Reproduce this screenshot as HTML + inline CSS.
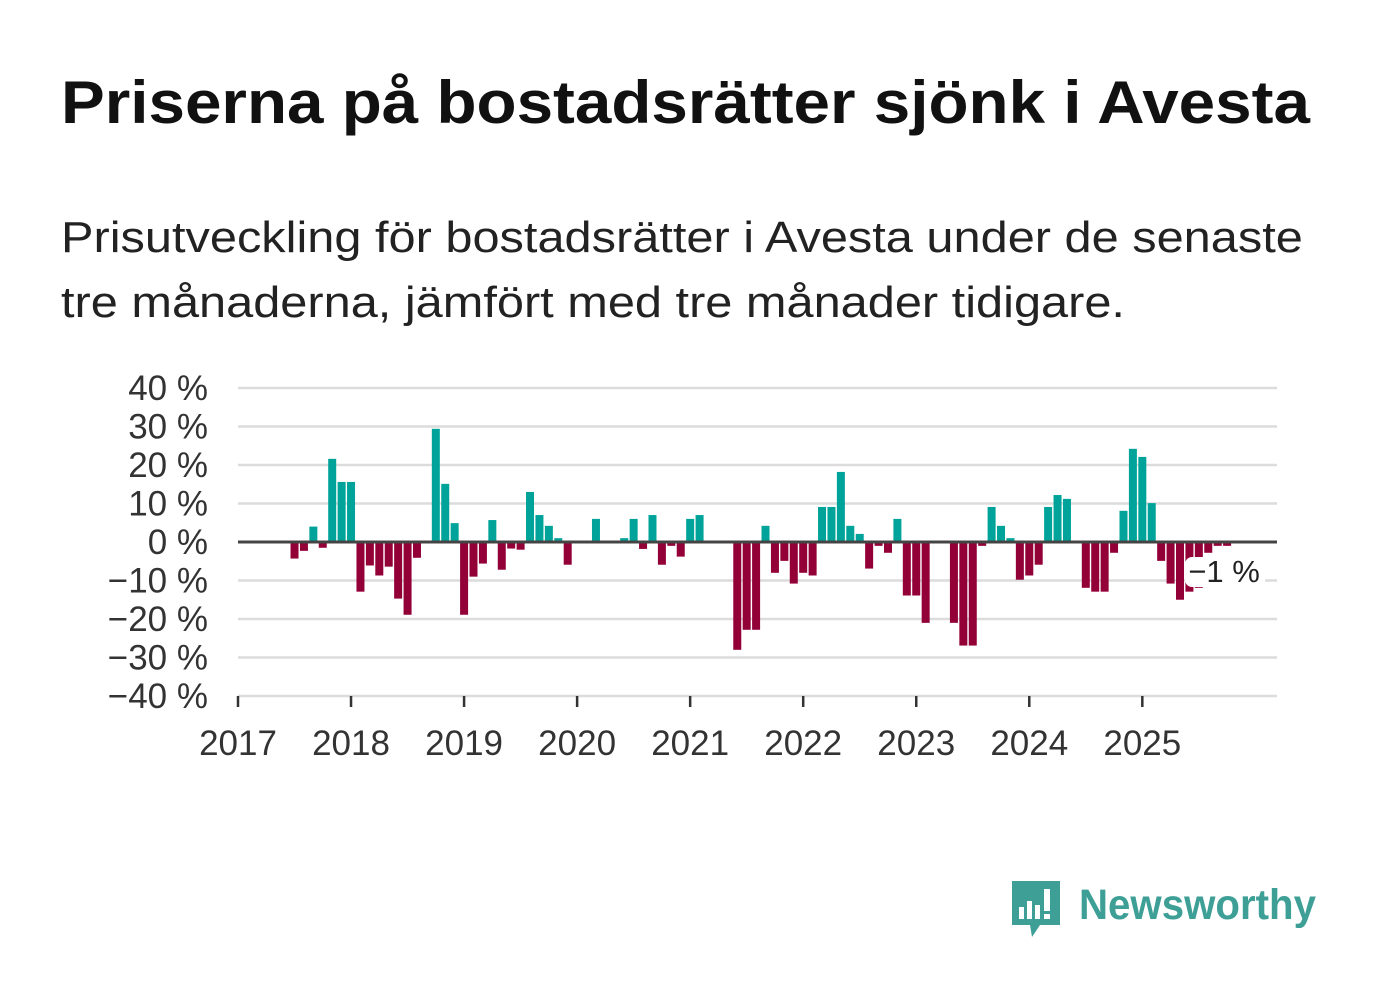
<!DOCTYPE html>
<html><head><meta charset="utf-8">
<style>
body{margin:0;background:#fff;width:1382px;height:999px;overflow:hidden;font-family:"Liberation Sans",sans-serif;}
#title{position:absolute;left:61px;top:68px;font-size:60px;font-weight:bold;color:#111;margin:0;white-space:nowrap;transform:scaleX(1.093);transform-origin:0 0;font-family:"Liberation Sans",sans-serif;}
#sub{position:absolute;left:61px;top:205px;font-size:44px;line-height:65px;color:#222;white-space:nowrap;transform:scaleX(1.107);transform-origin:0 0;font-family:"Liberation Sans",sans-serif;}
svg{position:absolute;left:0;top:0;}
</style></head><body>
<h1 id="title">Priserna på bostadsrätter sjönk i Avesta</h1>
<div id="sub">Prisutveckling för bostadsrätter i Avesta under de senaste<br>tre månaderna, jämfört med tre månader tidigare.</div>
<svg id="chart" width="1382" height="999"></svg>
<svg width="1382" height="999" style="pointer-events:none">
<g transform="translate(1012,881)">
<path d="M0 0 H48 V44 H28 L20 56 L18 44 H0 Z" fill="#3e9f97"/>
<rect x="7" y="26" width="5" height="12" fill="#fff"/><rect x="15" y="20" width="5" height="18" fill="#fff"/><rect x="23" y="24" width="5" height="14" fill="#fff"/><rect x="32" y="8" width="6" height="22" fill="#fff"/><rect x="32" y="33" width="6" height="5" fill="#fff"/>
</g>
<text x="1079" y="919" font-family="Liberation Sans,sans-serif" font-size="43" font-weight="bold" fill="#3e9f97" textLength="237" lengthAdjust="spacingAndGlyphs">Newsworthy</text>
</svg>
<script>
const yTicks=[40,30,20,10,0,-10,-20,-30,-40];
const yearLabels=["2017","2018","2019","2020","2021","2022","2023","2024","2025"];
const monthIndex=[5,6,7,8,9,10,11,12,13,14,15,16,17,18,20,21,22,23,24,25,26,27,28,29,30,31,32,33,34,37,40,41,42,43,44,45,46,47,48,52,53,54,55,56,57,58,59,60,61,62,63,64,65,66,67,68,69,70,71,72,75,76,77,78,79,80,81,82,83,84,85,86,87,89,90,91,92,93,94,95,96,97,98,99,100,101,102,103,104];
const values=[-4.3,-2.3,4,-1.5,21.6,15.6,15.6,-12.9,-6.1,-8.7,-6.4,-14.7,-18.9,-4.1,29.4,15.1,4.9,-18.9,-9,-5.6,5.7,-7.2,-1.7,-2,13,7,4.2,1,-5.9,6,1,6,-1.8,7,-5.9,-1,-3.8,6,7,-28,-22.8,-22.8,4.2,-8,-4.9,-10.8,-8,-8.7,9.1,9.1,18.2,4.2,2.1,-6.9,-1,-2.8,6,-13.9,-13.9,-21,-21,-26.9,-26.9,-1,9.1,4.2,1,-9.8,-8.7,-5.9,9.1,12.2,11.2,-11.9,-12.9,-12.9,-2.8,8.1,24.2,22.1,10.1,-4.9,-10.8,-15,-12.9,-11.9,-2.8,-1,-1];
const lastLabel="−1 %";
const NS="http://www.w3.org/2000/svg";
const svg=document.getElementById('chart');
const x0=238,step=9.42,right=1277;
const y=v=>542-v*3.85;
const xm=m=>x0+m*step;
function mk(t,a){const e=document.createElementNS(NS,t);for(const k in a)e.setAttribute(k,a[k]);svg.appendChild(e);return e;}
yTicks.forEach(t=>{
 const l=mk('line',{x1:x0,x2:right,y1:y(t),y2:y(t),stroke:'#dcdcdc','stroke-width':2.5});
 
 
 const tx=mk('text',{x:208,y:y(t)+12,'text-anchor':'end','font-size':35,fill:'#333','font-family':'Liberation Sans,sans-serif'});
 tx.textContent=(t<0?'−'+(-t):t)+' %';
 
 
});
values.forEach((v,i)=>{
 const cx=xm(monthIndex[i]+1);
 const r=mk('rect',{x:cx-4,width:8,y:Math.min(y(v),y(0)),height:Math.abs(y(v)-y(0)),fill:v>=0?'#00a39a':'#930038'});
 
 
});
const z=mk('line',{x1:x0,x2:right,y1:y(0),y2:y(0),stroke:'#444','stroke-width':3});


const ax=mk('line',{x1:x0,x2:right,y1:y(-40),y2:y(-40),stroke:'#ddd','stroke-width':1});


yearLabels.forEach((lab,i)=>{
 const xx=xm(i*12);
 const tk=mk('line',{x1:xx,x2:xx,y1:y(-40),y2:y(-40)+11,stroke:'#333','stroke-width':2.5});
 
 
 const tx=mk('text',{x:xx,y:755,'text-anchor':'middle','font-size':35,fill:'#333','font-family':'Liberation Sans,sans-serif'});
 tx.textContent=lab;
 
 
});
const lx=xm(monthIndex[monthIndex.length-1]+1);
const bg=mk('rect',{x:lx-42,y:557,width:80,height:30,rx:7,fill:'#fff'});


const lt=mk('text',{x:lx-3,y:582,'text-anchor':'middle','font-size':31,fill:'#222','font-family':'Liberation Sans,sans-serif'});
lt.textContent=lastLabel;


</script>
</body></html>
